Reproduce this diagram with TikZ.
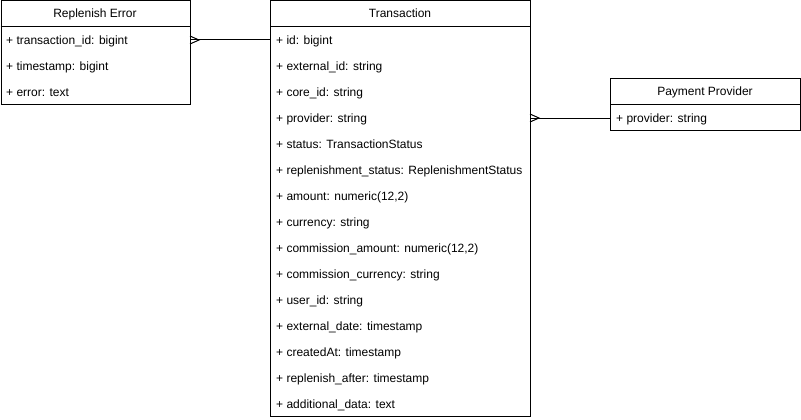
\documentclass[tikz,border=0pt]{standalone}
\usepackage{fontspec}
\setmainfont{Liberation Sans}
\begin{document}
\begin{tikzpicture}[x=1pt,y=-1pt,
  entity/.style={draw,line width=1pt,inner sep=0pt,anchor=north west},
  divider/.style={line width=1pt},
  title/.style={anchor=base,inner sep=0pt,font=\fontsize{12}{14}\selectfont},
  field/.style={anchor=base west,inner sep=0pt,font=\fontsize{12}{14}\selectfont},
  link/.style={line width=1pt},
]
\useasboundingbox (0,0) rectangle (801,420);

% Replenish Error
\node[entity,minimum width=189.5pt,minimum height=103.5pt] (re) at (0.5,0.5) {};
\draw[divider] (0.5,26.5) -- (190,26.5);
\node[title] (reT) at (95,18) {Replenish Error};
\node[field] (re1) at (6,44.3) {+ transaction\_id: bigint};
\node[field] (re2) at (6,70.3) {+ timestamp: bigint};
\node[field] (re3) at (6,96.3) {+ error: text};

% Transaction
\node[entity,minimum width=260pt,minimum height=415pt] (tx) at (270,0.5) {};
\draw[divider] (270,26.5) -- (530,26.5);
\node[title] (txT) at (400,18) {Transaction};
\foreach \i/\t in {1/{+ id: bigint},
                   2/{+ external\_id: string},
                   3/{+ core\_id: string},
                   4/{+ provider: string},
                   5/{+ status: TransactionStatus},
                   6/{+ replenishment\_status: ReplenishmentStatus},
                   7/{+ amount: numeric(12,2)},
                   8/{+ currency: string},
                   9/{+ commission\_amount: numeric(12,2)},
                   10/{+ commission\_currency: string},
                   11/{+ user\_id: string},
                   12/{+ external\_date: timestamp},
                   13/{+ createdAt: timestamp},
                   14/{+ replenish\_after: timestamp},
                   15/{+ additional\_data: text}}
  \node[field] (tx\i) at (276,{18.3+26*\i}) {\t};

% Payment Provider
\node[entity,minimum width=190pt,minimum height=52pt] (pp) at (610,78) {};
\draw[divider] (610,104) -- (800,104);
\node[title] (ppT) at (705,95.5) {Payment Provider};
\node[field] (pp1) at (616,122.3) {+ provider: string};

% Relations (crow's foot on the "many" side)
\coordinate (reA) at (190,40);
\coordinate (txA) at (270,40);
\draw[link] (reA) -- (txA);
\draw[link] ([shift={(0,-4)}]reA) -- ([shift={(9,0)}]reA) -- ([shift={(0,4)}]reA);

\coordinate (txB) at (530,118);
\coordinate (ppB) at (610,118);
\draw[link] (txB) -- (ppB);
\draw[link] ([shift={(0,-4)}]txB) -- ([shift={(9,0)}]txB) -- ([shift={(0,4)}]txB);
\end{tikzpicture}
\end{document}
